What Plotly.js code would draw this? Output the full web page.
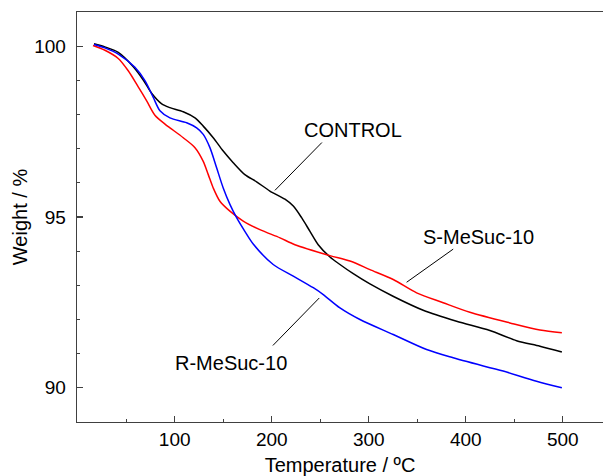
<!DOCTYPE html>
<html>
<head>
<meta charset="utf-8">
<script src="https://cdn.plot.ly/plotly-3.0.1.min.js"></script>
<style>html,body{margin:0;padding:0;background:#fff}#chart{width:603px;height:476px}</style>
</head>
<body>
<div id="chart"></div>
<script>
// CONTROL
const controlT = [16.8, 28.0, 41.8, 57.3, 67.6, 76.2, 86.6, 95.1, 108.8, 120.9, 129.4, 139.7, 150.0, 160.3, 172.3, 184.4, 198.1, 213.6, 222.2, 230.8, 239.4, 247.9, 260.0, 270.3, 284.0, 301.2, 325.0, 356.1, 390.5, 424.8, 452.3, 476.4, 499.0];
const controlW = [100.07, 99.98, 99.82, 99.40, 99.01, 98.62, 98.31, 98.20, 98.08, 97.90, 97.66, 97.32, 96.93, 96.59, 96.24, 96.03, 95.76, 95.52, 95.32, 94.98, 94.58, 94.19, 93.83, 93.61, 93.34, 93.04, 92.68, 92.27, 91.95, 91.68, 91.38, 91.22, 91.05];
// S-MeSuc-10
const sT = [15.8, 28.1, 41.8, 52.1, 62.4, 71.1, 79.6, 90.0, 95.1, 108.8, 120.9, 129.4, 134.6, 139.7, 146.6, 156.9, 170.6, 187.8, 208.5, 223.9, 260.0, 280.6, 301.2, 325.2, 349.3, 376.7, 404.2, 445.4, 476.4, 499.0];
const sW = [100.02, 99.88, 99.64, 99.28, 98.81, 98.40, 97.98, 97.72, 97.61, 97.32, 97.03, 96.63, 96.24, 95.85, 95.46, 95.17, 94.88, 94.63, 94.39, 94.19, 93.87, 93.71, 93.46, 93.17, 92.78, 92.49, 92.21, 91.90, 91.69, 91.61];
// R-MeSuc-10
const rT = [16.8, 28.0, 41.8, 59.0, 69.3, 77.9, 84.8, 95.1, 112.3, 122.6, 129.4, 136.3, 143.2, 150.0, 156.9, 163.8, 172.3, 180.9, 201.5, 222.2, 242.8, 253.1, 270.3, 290.9, 325.2, 359.6, 387.0, 424.8, 438.5, 472.9, 499.0];
const rW = [100.05, 99.95, 99.77, 99.38, 98.99, 98.50, 98.11, 97.90, 97.76, 97.61, 97.42, 97.03, 96.44, 95.85, 95.37, 94.98, 94.58, 94.21, 93.61, 93.27, 92.93, 92.73, 92.34, 92.00, 91.56, 91.12, 90.88, 90.59, 90.49, 90.19, 90.00];

const xTicks = [100, 200, 300, 400, 500];
const yTicks = [90, 95, 100];

const font = 'Liberation Sans, Arial, sans-serif';
const lineW = 1.5;
const mkLine = (color) => ({color: color, width: lineW, shape: 'spline', smoothing: 0.8});

const traces = [
  {x: controlT, y: controlW, mode: 'lines', name: 'CONTROL', line: mkLine('#000000')},
  {x: sT, y: sW, mode: 'lines', name: 'S-MeSuc-10', line: mkLine('#ff0000')},
  {x: rT, y: rW, mode: 'lines', name: 'R-MeSuc-10', line: mkLine('#0000ff')}
];

const leader = (x0, y0, x1, y1) => ({type: 'line', xref: 'x', yref: 'y', x0, y0, x1, y1, line: {color: '#000', width: 1}});

const layout = {
  width: 603, height: 476,
  margin: {l: 77, r: 0, t: 12, b: 54},
  paper_bgcolor: '#fff', plot_bgcolor: '#fff',
  showlegend: false,
  font: {family: font, color: '#000', size: 19},
  xaxis: {
    range: [-0.7, 541.4],
    tickvals: xTicks, ticktext: xTicks.map(String),
    ticks: 'inside', ticklen: 6, tickwidth: 1.2, tickcolor: '#404040',
    minor: {dtick: 50, tick0: 0, ticks: 'inside', ticklen: 3, tickcolor: '#404040', tickwidth: 1.2},
    showline: true, linecolor: '#404040', linewidth: 1.3, mirror: true,
    showgrid: false, zeroline: false,
    tickfont: {family: font, size: 19, color: '#000'},
    title: {text: 'Temperature / ºC', font: {family: font, size: 20, color: '#000'}, standoff: 10},
    automargin: false
  },
  yaxis: {
    range: [89, 101],
    tickvals: yTicks, ticktext: yTicks.map(String),
    ticks: 'inside', ticklen: 6, tickwidth: 1.2, tickcolor: '#404040',
    minor: {dtick: 1, tick0: 0, ticks: 'inside', ticklen: 3, tickcolor: '#404040', tickwidth: 1.2},
    showline: true, linecolor: '#404040', linewidth: 1.3, mirror: false,
    showgrid: false, zeroline: false,
    ticklabelstandoff: 6,
    tickfont: {family: font, size: 19, color: '#000'},
    title: {text: 'Weight / %', font: {family: font, size: 20, color: '#000'}},
    automargin: false
  },
  shapes: [
    leader(251.7, 97.18, 203.3, 95.78),
    leader(387.0, 94.06, 339.0, 93.09),
    leader(201.2, 91.24, 249.0, 92.63)
  ],
  annotations: [
    {x: 284.2, y: 97.56, xref: 'x', yref: 'y', text: 'CONTROL', showarrow: false, font: {family: font, size: 20, color: '#000'}},
    {x: 413.5, y: 94.41, xref: 'x', yref: 'y', text: 'S-MeSuc-10', showarrow: false, font: {family: font, size: 20, color: '#000'}},
    {x: 158.2, y: 90.74, xref: 'x', yref: 'y', text: 'R-MeSuc-10', showarrow: false, font: {family: font, size: 20, color: '#000'}}
  ]
};

Plotly.newPlot('chart', traces, layout, {displayModeBar: false, staticPlot: true});
</script>
</body>
</html>
